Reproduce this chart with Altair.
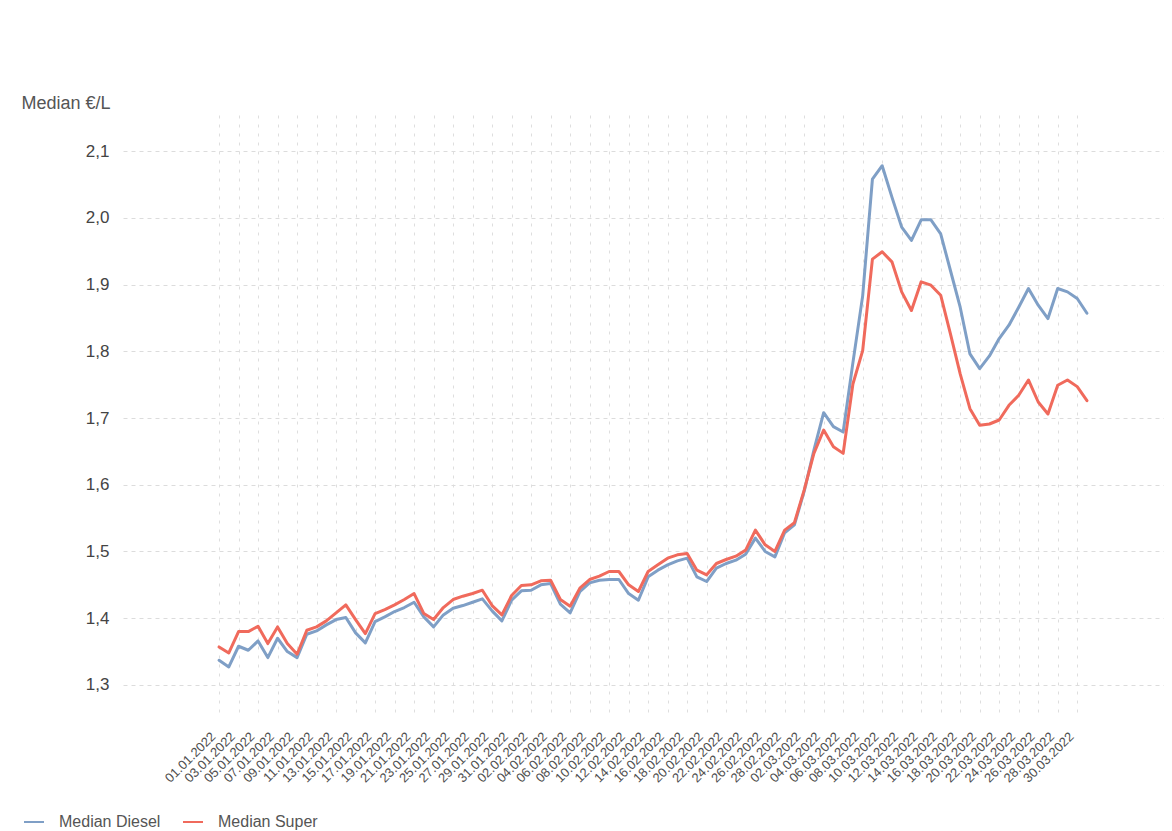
import altair as alt
import pandas as pd

# ---- data ----
start = pd.Timestamp("2022-01-01", tz="UTC")
dates = [(start + pd.Timedelta(days=i)).strftime("%Y-%m-%d") for i in range(90)]

diesel = [
    1.337, 1.327, 1.358, 1.352, 1.366, 1.341, 1.370, 1.350, 1.341, 1.376,
    1.381, 1.390, 1.398, 1.401, 1.378, 1.363, 1.395, 1.402, 1.410, 1.416,
    1.424, 1.402, 1.387, 1.405, 1.415, 1.419, 1.424, 1.429, 1.411, 1.396,
    1.427, 1.441, 1.442, 1.450, 1.452, 1.421, 1.408, 1.440, 1.453, 1.457,
    1.458, 1.458, 1.437, 1.427, 1.462, 1.472, 1.480, 1.486, 1.490, 1.462,
    1.455, 1.475, 1.482, 1.487, 1.496, 1.520, 1.500, 1.492, 1.528, 1.540,
    1.590, 1.652, 1.708, 1.687, 1.679, 1.783, 1.883, 2.058, 2.078, 2.031,
    1.986, 1.966, 1.997, 1.997, 1.976, 1.921, 1.866, 1.796, 1.774, 1.793,
    1.819, 1.839, 1.866, 1.894, 1.869, 1.849, 1.894, 1.889, 1.879, 1.857,
]
super_ = [
    1.357, 1.348, 1.380, 1.380, 1.388, 1.362, 1.387, 1.362, 1.346, 1.382,
    1.387, 1.396, 1.408, 1.420, 1.398, 1.377, 1.407, 1.413, 1.420, 1.428,
    1.437, 1.407, 1.398, 1.416, 1.428, 1.433, 1.437, 1.442, 1.419, 1.405,
    1.434, 1.449, 1.450, 1.456, 1.457, 1.428, 1.418, 1.445, 1.458, 1.463,
    1.470, 1.470, 1.450, 1.440, 1.470, 1.480, 1.490, 1.495, 1.497, 1.472,
    1.465, 1.482, 1.488, 1.493, 1.502, 1.532, 1.510, 1.500, 1.532, 1.543,
    1.592, 1.647, 1.682, 1.657, 1.647, 1.751, 1.801, 1.938, 1.949, 1.934,
    1.889, 1.861, 1.904, 1.899, 1.884, 1.826, 1.766, 1.714, 1.689, 1.691,
    1.697, 1.719, 1.734, 1.757, 1.724, 1.706, 1.749, 1.757, 1.747, 1.726,
]
series_names = ["Median Diesel", "Median Super"]
series_colors = ["#7f9fc6", "#f06a5c"]
tick_dates = dates[::2]
y_ticks = [1.3, 1.4, 1.5, 1.6, 1.7, 1.8, 1.9, 2.0, 2.1]

rows = []
for d, v in zip(dates, diesel):
    rows.append({"date": d, "value": v, "series": series_names[0], "order": 0})
for d, v in zip(dates, super_):
    rows.append({"date": d, "value": v, "series": series_names[1], "order": 1})
df = pd.DataFrame(rows)

def ms(ts):
    return int(ts.value // 10**6)

x_domain = [ms(start - pd.Timedelta(hours=9.85 * 24)), ms(start + pd.Timedelta(hours=96.9 * 24))]
x_ticks = [ms(pd.Timestamp(t, tz="UTC")) for t in tick_dates]

FONT = "Liberation Sans"

chart = alt.Chart(df).mark_line(strokeWidth=3, strokeJoin="round", strokeCap="round").encode(
    x=alt.X(
        "date:T",
        scale=alt.Scale(type="utc", domain=x_domain),
        axis=alt.Axis(
            values=x_ticks,
            labelExpr="utcFormat(datum.value, '%d.%m.%Y')",
            labelAngle=-45,
            labelAlign="right",
            labelBaseline="middle",
            labelPadding=19,
            labelOffset=-6,
            labelFontSize=13,
            labelColor="#505050",
            labelFont=FONT,
            labelOverlap=False,
            labelBound=False,
            labelFlush=False,
            grid=True,
            gridColor="#dedede",
            gridDash=[3, 6],
            gridWidth=1,
            domain=False,
            ticks=False,
            title=None,
        ),
    ),
    y=alt.Y(
        "value:Q",
        scale=alt.Scale(domain=[1.255, 2.154], nice=False, zero=False),
        axis=alt.Axis(
            values=y_ticks,
            labelExpr="replace(format(datum.value, '.1f'), '.', ',')",
            labelFontSize=17,
            labelColor="#444444",
            labelFont=FONT,
            labelPadding=14,
            grid=True,
            gridColor="#dcdcdc",
            gridDash=[4, 4],
            gridWidth=1,
            domain=False,
            ticks=False,
            title="Median €/L",
            titleAngle=0,
            titleAlign="left",
            titleBaseline="middle",
            titleX=-102,
            titleY=-12,
            titleFontSize=18,
            titleFontWeight="normal",
            titleColor="#555555",
            titleFont=FONT,
        ),
    ),
    color=alt.Color(
        "series:N",
        scale=alt.Scale(domain=series_names, range=series_colors),
        legend=alt.Legend(
            title=None,
            orient="none",
            direction="horizontal",
            legendX=-100,
            legendY=696,
            symbolType="stroke",
            symbolStrokeWidth=2,
            symbolSize=400,
            labelFontSize=16,
            labelColor="#555555",
            labelFont=FONT,
            labelOffset=14,
            columnPadding=18,
        ),
    ),
    order="order:Q",
).properties(
    width=1041,
    height=600,
    background="white",
    autosize=alt.AutoSizeParams(type="none"),
    padding={"left": 115, "top": 107, "right": 0, "bottom": 116},
).configure_view(stroke=None)

chart.save("out.html", embed_options={"renderer": "svg", "actions": False})
